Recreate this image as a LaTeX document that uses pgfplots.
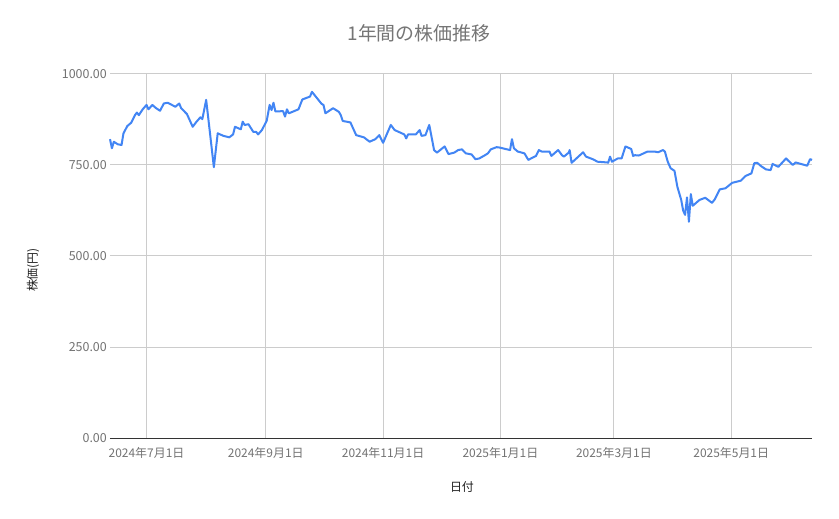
\documentclass[border=0pt]{standalone}
\usepackage{fontspec}
\setmainfont{Noto Sans CJK JP}
\usepackage{pgfplots}
\usepackage{pgfplotstable}
\pgfplotsset{compat=1.18}

\definecolor{linecol}{HTML}{4285F4}
\definecolor{gridcol}{HTML}{CCCCCC}
\definecolor{basecol}{HTML}{333333}
\definecolor{tickcol}{HTML}{737373}
\definecolor{titlecol}{HTML}{757575}
\definecolor{labelcol}{HTML}{222222}

% day 0 = 2024-07-01
\pgfplotstableread{
day price
-19 821
-18 796
-17 814
-15 807
-13 805
-12 837
-10 857
-8 866
-6 887
-5 894
-4 887
-2 903
0 915
1 903
3 915
5 906
7 899
9 919
11 921
15 910
17 919
18 906
21 890
24 855
26 869
28 881
29 876
31 929
33 837
35 744
37 837
40 830
43 826
45 834
46 855
49 848
50 869
51 860
53 862
55.5 841
57 841
58 834
60 846
62.5 872
64 915
65 901
66 921
67 897
71 898
72 883
73 903
74 892
79 903
81 930
85 938
86 951
91 918
92 915
93 892
97 906
100 896
101 887
102 871
106 867
109 832
113 826
116 814
119 821
121 832
123 811
127 860
129 846
134 834
135 823
136 834
140 834
142 846
143 830
145 832
147 860
149.5 791
151 784
155 801
157 780
160 784
162 791
164 793
166 782
169 779
171 766
173 768
176 777
177.5 782
179 793
182 799
183.5 798
189 791
190 821
191 796
193 787
196.5 782
198.5 764
201 771
202.5 775
204 791
205.5 787
209.5 787
210.5 775
214 791
216 777
217 773
219.5 784
220 791
221 756
223.5 768
227 785
228.5 773
232 766
234.5 759
239.5 757
240 756
241 773
242 759
245 768
247 768
249 801
252 794
253 775
254 777
256 776
260.5 787
264 787
266 785
268.5 791
269.5 787
271 759
272.5 741
274.5 734
276 690
278 654
279 625
280 613
281 661
282 594
283 670
284 638
287.5 654
290.5 660
294 646
295.5 656
298 683
301 686
304.5 701
309 707
311.5 720
314.5 727
316 755
317.5 756
319.5 747
322 738
324.5 736
325.5 753
328.5 745
332.5 768
336 750
337.5 757
343.5 748
345 766
346 764
}\pricedata

\begin{document}
\begin{tikzpicture}
\path[use as bounding box, fill=white] (-110bp,-81bp) rectangle (729bp,438bp);
\begin{axis}[
  scale only axis,
  width=702bp, height=364bp,
  at={(0,0)}, anchor=south west,
  xmin=-19, xmax=346,
  ymin=0, ymax=1000,
  axis line style={draw=none},
  major tick length=0pt,
  xtick={0,62,123,184,243,304},
  xticklabels={2024年7月1日,2024年9月1日,2024年11月1日,2025年1月1日,2025年3月1日,2025年5月1日},
  ytick={0,250,500,750,1000},
  yticklabel={\pgfmathprintnumber[fixed,fixed zerofill,precision=2,1000 sep={}]{\tick}},
  /pgf/number format/assume math mode=true,
  grid=major,
  grid style={gridcol, line width=1bp},
  extra y ticks={0},
  extra y tick labels={},
  extra y tick style={grid style={basecol, line width=1bp}},
  tick label style={font=\fontsize{12}{14}\selectfont, text=tickcol, inner sep=0pt},
  xticklabel style={anchor=center, yshift=-14.5bp},
  yticklabel style={font=\fontsize{12.5}{14}\selectfont, anchor=east, xshift=-3bp},
  title={1年間の株価推移},
  title style={font=\fontsize{19}{22}\selectfont, text=titlecol, at={(axis description cs:0.4402,1.0962)}, anchor=center},
  xlabel={日付},
  xlabel style={font=\fontsize{12}{14}\selectfont, text=labelcol, at={(axis description cs:0.5014,-0.1346)}, anchor=center},
  ylabel={株価(円)},
  ylabel style={font=\fontsize{12}{14}\selectfont, text=labelcol, at={(axis description cs:-0.1097,0.4615)}, anchor=center},
  clip=false,
]
\addplot[linecol, line width=2bp, line join=round, no marks] table[x=day, y=price] {\pricedata};
\end{axis}
\end{tikzpicture}
\end{document}
